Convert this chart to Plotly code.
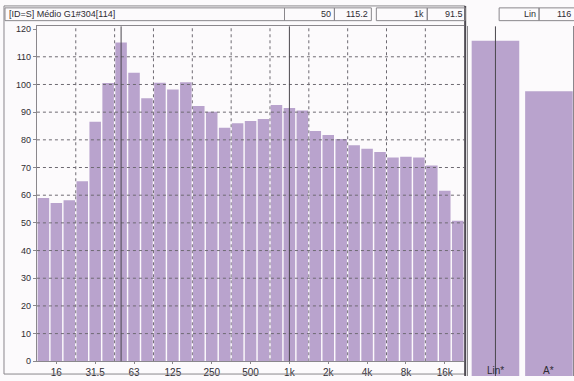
import plotly.graph_objects as go

# One-third-octave band spectrum, 12.5 Hz .. 20 kHz
bands = ["12.5", "16", "20", "25", "31.5", "40", "50", "63", "80", "100", "125",
         "160", "200", "250", "315", "400", "500", "630", "800", "1k", "1.25k",
         "1.6k", "2k", "2.5k", "3.15k", "4k", "5k", "6.3k", "8k", "10k", "12.5k",
         "16k", "20k"]
levels = [59.0, 57.2, 58.2, 65.0, 86.5, 100.5, 115.2, 104.2, 95.0, 100.6, 98.2,
          100.8, 92.2, 90.1, 84.4, 86.0, 86.8, 87.5, 92.6, 91.5, 90.6,
          83.2, 81.7, 80.3, 78.0, 76.8, 75.6, 73.6, 73.9, 73.6, 70.7,
          61.6, 50.8]

# Octave labels shown on the frequency axis
octave_ticks = ["16", "31.5", "63", "125", "250", "500", "1k", "2k", "4k", "8k", "16k"]

# Overall levels
total_names = ["Lin*", "A*"]
total_levels = [116.0, 98.5]

# Level axis
y_ticks = [0, 10, 20, 30, 40, 50, 60, 70, 80, 90, 100, 110, 120]

# Cursor readouts
title_text = "[ID=S] Médio G1#304[114]"
cursor_a = ("50", "115.2")
cursor_b = ("1k", "91.5")
cursor_total = ("Lin", "116")

W, H = 574, 381
BAR = "#b9a3cd"
GRID = "#6e6a72"
FRAME = "#8a878c"
FONT = "Liberation Sans"


def px(x):
    return x / W


def py(y):
    return 1 - y / H


fig = go.Figure()

fig.add_trace(go.Bar(x=bands, y=levels, marker=dict(color=BAR, line=dict(width=0)),
                     xaxis="x", yaxis="y", showlegend=False))
fig.add_trace(go.Bar(x=total_names, y=total_levels,
                     marker=dict(color=BAR, line=dict(width=0)),
                     xaxis="x2", yaxis="y2", showlegend=False))

shapes = []

# Vertical dotted grid on octave boundaries
for t in octave_ticks:
    b = bands.index(t) + 1.5
    if b < len(bands) - 1:
        shapes.append(dict(type="line", xref="x", yref="y", x0=b, x1=b, y0=0, y1=121,
                           line=dict(color=GRID, width=1, dash="dot"), layer="below"))

# Horizontal dotted grid, drawn over the bars
for v in y_ticks[1:-1]:
    shapes.append(dict(type="line", xref="x domain", yref="y", x0=0, x1=1, y0=v, y1=v,
                       line=dict(color=GRID, width=1, dash="dot"), layer="above"))

# Cursor lines
for c in (cursor_a[0], cursor_b[0]):
    shapes.append(dict(type="line", xref="x", yref="y domain", x0=bands.index(c),
                       x1=bands.index(c), y0=0, y1=1,
                       line=dict(color="#4a474d", width=1), layer="above"))
shapes.append(dict(type="line", xref="x2", yref="y2 domain", x0=0, x1=0, y0=0, y1=1,
                   line=dict(color="#4a474d", width=1), layer="above"))

# Outer frame of the spectrum panel and panel separator
shapes.append(dict(type="rect", xref="paper", yref="paper", x0=px(4), x1=px(466),
                   y0=py(379), y1=py(4), line=dict(color=FRAME, width=1), layer="above"))
shapes.append(dict(type="line", xref="paper", yref="paper", x0=px(466), x1=px(466),
                   y0=0, y1=py(4), line=dict(color="#4e4a52", width=2), layer="above"))

# Readout boxes in the header row
boxes = [(5, 285), (285, 335), (335, 372), (377, 428), (428, 466), (500, 540), (540, 580)]
for x0, x1 in boxes:
    shapes.append(dict(type="rect", xref="paper", yref="paper", x0=px(x0), x1=px(x1),
                       y0=py(19), y1=py(6), line=dict(color=FRAME, width=1), layer="above"))

annotations = []


def label(text, x, y, anchor="left", size=9):
    annotations.append(dict(text=text, xref="paper", yref="paper", x=px(x), y=py(y),
                            xanchor=anchor, yanchor="middle", showarrow=False,
                            font=dict(family=FONT, size=size, color="#2f2c33")))


label(title_text, 7, 12.5)
label(cursor_a[0], 334, 12.5, "right")
label(cursor_a[1], 371, 12.5, "right")
label(cursor_b[0], 427, 12.5, "right")
label(cursor_b[1], 466, 12.5, "right")
label(cursor_total[0], 539, 12.5, "right")
label(cursor_total[1], 574, 12.5, "right")

# Category names of the overall levels sit on top of their bars
for name in total_names:
    annotations.append(dict(text=name, xref="x2", yref="paper", x=name, y=py(375),
                            xanchor="center", yanchor="middle", showarrow=False,
                            font=dict(family=FONT, size=10, color="#2f2c33")))

fig.update_layout(
    width=W, height=H, autosize=False,
    margin=dict(l=0, r=0, t=0, b=0),
    paper_bgcolor="#fcfafc", plot_bgcolor="#fcfafc",
    bargap=0.11,
    font=dict(family=FONT, size=9, color="#2f2c33"),
    shapes=shapes, annotations=annotations,
    xaxis=dict(domain=[px(37), px(465)], range=[-0.5, len(bands) - 0.5],
               type="category", tickmode="array", tickvals=octave_ticks,
               ticktext=octave_ticks, showgrid=False, ticks="outside", ticklen=2,
               tickcolor=FRAME, tickfont=dict(size=10), showline=True,
               linecolor=FRAME, mirror=True, zeroline=False, fixedrange=True),
    yaxis=dict(domain=[py(366), py(24.8)], range=[0, 121], tickvals=y_ticks,
               showgrid=False, ticks="outside", ticklen=3, tickcolor=FRAME,
               tickfont=dict(size=9), showline=True, linecolor=FRAME,
               zeroline=False, fixedrange=True),
    xaxis2=dict(domain=[px(469), 1.0], range=[-0.51, 1.45], type="category",
                showticklabels=False, showgrid=False, showline=False,
                zeroline=False, fixedrange=True),
    yaxis2=dict(domain=[0, py(24.8)], range=[0, 121], anchor="x2",
                showticklabels=False, showgrid=False, showline=True,
                linecolor=FRAME, mirror=True, zeroline=False, fixedrange=True),
)

fig.write_html("out.html", config=dict(displayModeBar=False))
